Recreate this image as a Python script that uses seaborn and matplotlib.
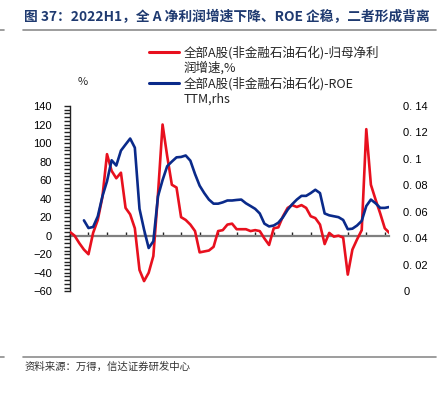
import numpy as np
import pandas as pd
import matplotlib
matplotlib.use("Agg")
import matplotlib.pyplot as plt
from matplotlib.lines import Line2D
from matplotlib.ticker import MultipleLocator, FuncFormatter
import seaborn as sns

# ---------------- data ----------------
quarters = pd.date_range("2005-03-31", periods=70, freq="QE")

profit_growth = [4, 0, -8, -15, -20, 3, 17, 42, 88, 70,
                 62, 68, 30, 23, 8, -37, -49, -40, -22, 45,
                 120, 86, 55, 52, 20, 17, 12, 5, -18, -17,
                 -16, -12, 5, 6, 12, 13, 7, 7, 7, 5,
                 6, 5, -3, -10, 8, 9, 21, 30, 33, 31,
                 33, 30, 21, 19, 12, -9, 3, -1, 0, -2,
                 -42, -15, -4, 6, 115, 55, 39, 24, 8, 3]

roe_ttm = [np.nan, np.nan, np.nan, 0.0536, 0.0478, 0.0486, 0.0566, 0.0718, 0.0831, 0.0990,
           0.0950, 0.1063, 0.1109, 0.1154, 0.1085, 0.0623, 0.0466, 0.0327, 0.0378, 0.0718,
           0.0840, 0.0945, 0.0980, 0.1012, 0.1015, 0.1026, 0.0987, 0.0886, 0.0798, 0.0742,
           0.0693, 0.0662, 0.0662, 0.0672, 0.0686, 0.0686, 0.0690, 0.0693, 0.0665, 0.0644,
           0.0623, 0.0588, 0.0511, 0.0490, 0.0497, 0.0518, 0.0560, 0.0616, 0.0658, 0.0693,
           0.0721, 0.0721, 0.0742, 0.0767, 0.0742, 0.0588, 0.0574, 0.0567, 0.0560, 0.0539,
           0.0469, 0.0473, 0.0497, 0.0532, 0.0644, 0.0693, 0.0665, 0.0630, 0.0630, 0.0637]

tick_years = list(range(2005, 2023))
tick_labels = [f"{y}-03" for y in tick_years]

label_profit = ["全部A股(非金融石油石化)-归母净利", "润增速,%"]
label_roe = ["全部A股(非金融石油石化)-ROE", "TTM,rhs"]
title = "图 37：2022H1，全 A 净利润增速下降、ROE 企稳，二者形成背离"
source = "资料来源：万得，信达证券研发中心"

df = pd.DataFrame({"date": quarters, "profit": profit_growth, "roe": roe_ttm})

# ---------------- style ----------------
sns.set_theme(style="white")
plt.rcParams["font.family"] = ["Liberation Sans", "Noto Sans CJK SC", "DejaVu Sans"]
cjk = ["Noto Sans CJK SC", "DejaVu Sans"]

RED = "#E8101E"
BLUE = "#0A2A8A"
TITLE_BLUE = "#1F3A70"

fig = plt.figure(figsize=(4.41, 3.93), dpi=100)
ax = fig.add_axes([0.1587, 0.2588, 0.7243, 0.4715])
ax2 = ax.twinx()

sns.lineplot(data=df, x="date", y="profit", ax=ax, color=RED, lw=1.9, zorder=3)
sns.lineplot(data=df, x="date", y="roe", ax=ax2, color=BLUE, lw=1.9, zorder=3)

ax.set_xlim(quarters[0], quarters[-1])
ax.set_ylim(-60, 140)
ax2.set_ylim(0, 0.14)
ax.set_xlabel("")
ax.set_ylabel("")
ax2.set_xlabel("")
ax2.set_ylabel("")

for a in (ax, ax2):
    for s in a.spines.values():
        s.set_visible(False)

# left axis
ax.spines["left"].set_visible(True)
ax.spines["left"].set_color("#222222")
ax.spines["left"].set_linewidth(1.0)
ax.yaxis.set_major_locator(MultipleLocator(20))
ax.yaxis.set_minor_locator(MultipleLocator(4))
ax.tick_params(axis="y", which="major", direction="out", length=4, width=1.0,
               color="#222222", labelsize=8, pad=9, labelcolor="black")
ax.tick_params(axis="y", which="minor", direction="out", length=4, width=1.0,
               color="#222222", left=True)

# right axis
ax2.yaxis.set_major_locator(MultipleLocator(0.02))
ax2.yaxis.set_major_formatter(FuncFormatter(lambda v, p: "0" if abs(v) < 1e-9 else f"{v:.2f}".rstrip("0").replace(".", ". ")))
ax2.tick_params(axis="y", length=0, labelsize=8, pad=10, labelcolor="black")

# x axis: labels at bottom, ticks on zero line
tick_dates = [pd.Timestamp(f"{y}-03-31") for y in tick_years]
ax.set_xticks(tick_dates)
ax.set_xticklabels(tick_labels, rotation=90, fontsize=8)
ax.tick_params(axis="x", length=0, pad=4, labelcolor="black")
ax2.set_xticks([])

zero_ax = ax.secondary_xaxis(0.3)
zero_ax.set_xticks(tick_dates)
zero_ax.set_xticklabels([])
zero_ax.spines["bottom"].set_color("#7f7f7f")
zero_ax.spines["bottom"].set_linewidth(1.6)
zero_ax.tick_params(axis="x", direction="in", length=3, width=1.0, color="#222222")
for k in ("top", "left", "right"):
    zero_ax.spines[k].set_visible(False)

ax.grid(False)
ax2.grid(False)
ax2.set_zorder(ax.get_zorder() + 1)
ax2.patch.set_visible(False)

# "%" unit label
fig.text(83 / 441, 1 - 82 / 393, "%", fontsize=8, ha="center", va="center", family=cjk)

# legend (4 rows so the handle sits on the first line of each label)
handles = [Line2D([], [], color=RED, lw=2.2), Line2D([], [], color="none"),
           Line2D([], [], color=BLUE, lw=2.2), Line2D([], [], color="none")]
labels = [label_profit[0], label_profit[1], label_roe[0], label_roe[1]]
leg = fig.legend(handles, labels, loc="upper left",
                 bbox_to_anchor=(149 / 441, 1 - 46 / 393), frameon=False,
                 prop={"family": cjk, "size": 9}, handlelength=2.4,
                 handletextpad=0.4, labelspacing=0.15, borderpad=0, borderaxespad=0)

# title and rules
fig.text(24 / 441, 1 - 17 / 393, title, fontsize=9.9, fontweight="bold",
         color=TITLE_BLUE, ha="left", va="center", family=cjk)
fig.add_artist(Line2D([23 / 441, 436 / 441], [1 - 30 / 393, 1 - 30 / 393],
                      color="#8c8c8c", lw=1.2, transform=fig.transFigure))
fig.add_artist(Line2D([0, 4 / 441], [1 - 30 / 393, 1 - 30 / 393],
                      color="#8c8c8c", lw=1.2, transform=fig.transFigure))
fig.add_artist(Line2D([23 / 441, 436 / 441], [1 - 357 / 393, 1 - 357 / 393],
                      color="#8c8c8c", lw=1.2, transform=fig.transFigure))
fig.add_artist(Line2D([0, 4 / 441], [1 - 357 / 393, 1 - 357 / 393],
                      color="#8c8c8c", lw=1.2, transform=fig.transFigure))
fig.text(25 / 441, 1 - 367 / 393, source, fontsize=7.5, style="italic",
         color="#333333", ha="left", va="center", family=cjk)

fig.savefig("out.png", dpi=100)
